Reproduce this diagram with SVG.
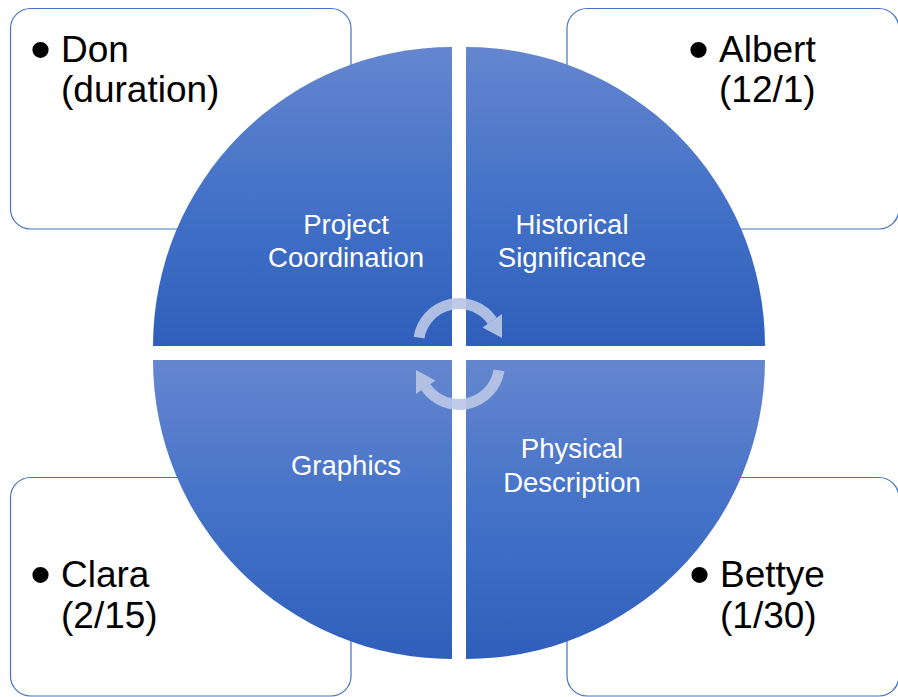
<svg xmlns="http://www.w3.org/2000/svg" width="898" height="697" viewBox="0 0 898 697">
<defs>
<linearGradient id="qg" x1="0" y1="0" x2="0" y2="1">
<stop offset="0" stop-color="#6586CF"/>
<stop offset="0.5" stop-color="#4472C8"/>
<stop offset="1" stop-color="#2F5FBB"/>
</linearGradient>
</defs>
<style>
.box{fill:#FFFFFF;stroke:#4472C4;stroke-width:1.2}
.quad{fill:url(#qg)}
.ql{font-family:"Liberation Sans",Arial,sans-serif;font-size:27.5px;fill:#FFFFFF;text-anchor:middle}
.bt{font-family:"Liberation Sans",Arial,sans-serif;font-size:37px;fill:#000000}
.bul{font-family:"Liberation Sans",Arial,sans-serif;font-size:60px;fill:#000000}
.arc{fill:none;stroke:#B8C5E5;stroke-width:11;opacity:0.92}
.head{fill:#B8C5E5;opacity:0.92}
</style>
<g id="box-don">
<rect class="box" x="10.5" y="8.5" width="340.5" height="220.5" rx="20" ry="20"/>
<text class="bul" x="30" y="70">•</text>
<text class="bt" x="61" y="62">Don</text>
<text class="bt" x="61" y="102">(duration)</text>
</g>
<g id="box-albert">
<rect class="box" x="567" y="8.5" width="332" height="220.5" rx="20" ry="20"/>
<text class="bul" x="688" y="70">•</text>
<text class="bt" x="719" y="62">Albert</text>
<text class="bt" x="719" y="102">(12/1)</text>
</g>
<g id="box-clara">
<rect class="box" x="10.5" y="477.5" width="340.5" height="218.5" rx="20" ry="20"/>
<text class="bul" x="30" y="595">•</text>
<text class="bt" x="61" y="587">Clara</text>
<text class="bt" x="61" y="628">(2/15)</text>
</g>
<g id="box-bettye">
<rect class="box" x="567" y="477.5" width="332" height="218.5" rx="20" ry="20"/>
<text class="bul" x="689" y="595">•</text>
<text class="bt" x="720" y="587">Bettye</text>
<text class="bt" x="720" y="628">(1/30)</text>
</g>
<g id="q-project">
<path class="quad" d="M452,346 L153,346 A299,299 0 0 1 452,47 Z"/>
<text class="ql" x="346" y="234">Project</text>
<text class="ql" x="346" y="267">Coordination</text>
</g>
<g id="q-historical">
<path class="quad" d="M466,346 L466,47 A299,299 0 0 1 765,346 Z"/>
<text class="ql" x="572" y="234">Historical</text>
<text class="ql" x="572" y="267">Significance</text>
</g>
<g id="q-graphics">
<path class="quad" d="M452,360 L452,659 A299,299 0 0 1 153,360 Z"/>
<text class="ql" x="346" y="475">Graphics</text>
</g>
<g id="q-physical">
<path class="quad" d="M466,360 L765,360 A299,299 0 0 1 466,659 Z"/>
<text class="ql" x="572" y="458">Physical</text>
<text class="ql" x="572" y="492">Description</text>
</g>
<g id="connectors">
<path class="arc" d="M419,337.7 A40.5,40.5 0 0 1 492.2,320.8"/>
<polygon class="head" points="482.5,327.5 502,314 502,338"/>
<path class="arc" d="M499,370.3 A40.5,40.5 0 0 1 425.8,387.2"/>
<polygon class="head" points="435.5,380.5 416,394 416,370"/>
</g>
</svg>
